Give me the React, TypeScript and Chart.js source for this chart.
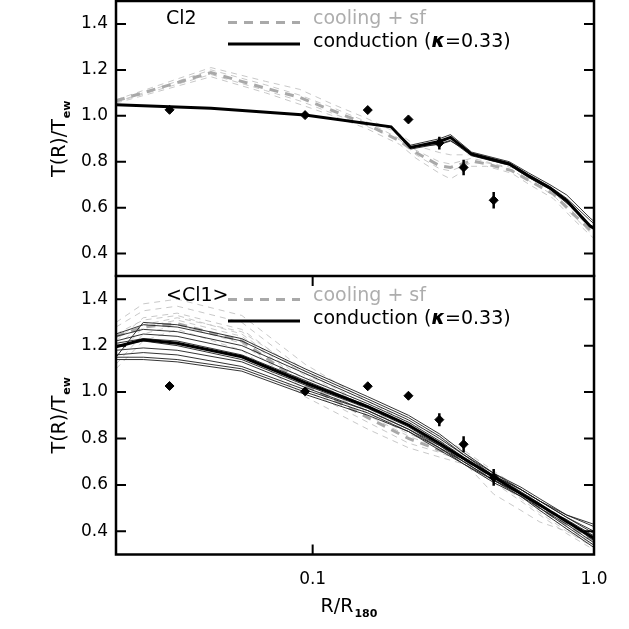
import { useEffect, useRef } from 'react';
import { Chart, registerables, type ChartConfiguration, type Plugin } from 'chart.js';

Chart.register(...registerables);

// ── Design tokens ──────────────────────────────────────────────────────────────

const FONT = '"DejaVu Sans", sans-serif';
const C = {
  black:     '#000000',
  thinBlack: '#1e1e1e',
  gray:      '#a9a9a9',
  grayThin:  '#c2c2c2',
  grayText:  '#adadad',
} as const;

// ── Observed profile (same in both panels) ─────────────────────────────────────

const OBS_R   = [0.031, 0.094, 0.157, 0.219, 0.282, 0.344, 0.44];
const OBS_T   = [1.026, 1.003, 1.025, 0.984, 0.881, 0.775, 0.632];
const OBS_ERR = [0.008, 0.008, 0.008, 0.008, 0.028, 0.034, 0.036];

// ── Top panel: Cl2 ─────────────────────────────────────────────────────────────

const TOP_COOL_R    = [0.02, 0.0435, 0.068, 0.09, 0.118, 0.155, 0.204, 0.233, 0.282, 0.309, 0.367, 0.415, 0.51, 0.59, 0.716, 0.843, 1.0];
const TOP_COOL_MEAN = [1.065, 1.188, 1.12, 1.08, 1.022, 0.964, 0.891, 0.84, 0.783, 0.775, 0.804, 0.79, 0.761, 0.717, 0.66, 0.573, 0.486];
const TOP_COOL_A    = [1.07, 1.21, 1.15, 1.115, 1.05, 0.99, 0.92, 0.87, 0.84, 0.83, 0.83, 0.81, 0.78, 0.73, 0.67, 0.58, 0.50];
const TOP_COOL_B    = [1.06, 1.20, 1.135, 1.09, 1.035, 0.975, 0.90, 0.85, 0.80, 0.79, 0.815, 0.80, 0.765, 0.715, 0.655, 0.565, 0.475];
const TOP_COOL_C    = [1.055, 1.17, 1.10, 1.05, 1.00, 0.945, 0.875, 0.815, 0.75, 0.725, 0.78, 0.78, 0.75, 0.70, 0.64, 0.55, 0.465];
const TOP_COOL_D    = [1.06, 1.18, 1.11, 1.065, 1.01, 0.955, 0.895, 0.83, 0.77, 0.76, 0.795, 0.795, 0.775, 0.73, 0.675, 0.59, 0.495];

const TOP_COND_R    = [0.02, 0.0435, 0.094, 0.19, 0.223, 0.282, 0.309, 0.367, 0.5, 0.584, 0.697, 0.80, 0.968, 1.0];
const TOP_COND_MEAN = [1.048, 1.033, 1.003, 0.952, 0.862, 0.888, 0.906, 0.833, 0.79, 0.739, 0.686, 0.63, 0.52, 0.51];
const TOP_COND_A    = [1.048, 1.033, 1.003, 0.950, 0.872, 0.90, 0.918, 0.842, 0.80, 0.752, 0.70, 0.655, 0.555, 0.54];
const TOP_COND_B    = [1.048, 1.033, 1.003, 0.951, 0.855, 0.878, 0.893, 0.826, 0.785, 0.732, 0.68, 0.62, 0.525, 0.515];
const TOP_COND_C    = [1.048, 1.033, 1.003, 0.952, 0.866, 0.875, 0.89, 0.838, 0.795, 0.745, 0.692, 0.64, 0.545, 0.53];

// ── Bottom panel: <Cl1> ────────────────────────────────────────────────────────

const BOT_R = [0.02, 0.025, 0.033, 0.056, 0.094, 0.157, 0.219, 0.282, 0.344, 0.44, 0.55, 0.642, 0.8, 1.0];

const BOT_COOL_MEAN = [1.24, 1.28, 1.295, 1.22, 1.03, 0.89, 0.80, 0.75, 0.71, 0.63, 0.56, 0.50, 0.43, 0.36];
const BOT_COOL_1 = [1.30, 1.38, 1.40, 1.33, 1.12, 0.96, 0.87, 0.81, 0.75, 0.66, 0.58, 0.52, 0.44, 0.37];
const BOT_COOL_2 = [1.28, 1.35, 1.37, 1.30, 1.09, 0.94, 0.85, 0.79, 0.74, 0.65, 0.57, 0.51, 0.43, 0.36];
const BOT_COOL_3 = [1.22, 1.32, 1.34, 1.27, 1.07, 0.92, 0.83, 0.77, 0.72, 0.63, 0.55, 0.49, 0.41, 0.34];
const BOT_COOL_4 = [1.15, 1.28, 1.31, 1.24, 1.04, 0.90, 0.81, 0.76, 0.71, 0.64, 0.56, 0.50, 0.42, 0.35];
const BOT_COOL_5 = [1.12, 1.25, 1.29, 1.21, 1.01, 0.87, 0.78, 0.74, 0.70, 0.62, 0.54, 0.48, 0.40, 0.33];
const BOT_COOL_6 = [1.10, 1.22, 1.27, 1.18, 0.98, 0.84, 0.76, 0.72, 0.69, 0.61, 0.53, 0.47, 0.39, 0.32];
const BOT_COOL_7 = [1.25, 1.31, 1.33, 1.25, 1.05, 0.91, 0.82, 0.77, 0.70, 0.56, 0.49, 0.44, 0.40, 0.34];
const BOT_COOL_8 = [1.20, 1.29, 1.32, 1.26, 1.08, 0.93, 0.84, 0.78, 0.73, 0.64, 0.57, 0.52, 0.45, 0.38];

const BOT_COND_MEAN = [1.195, 1.225, 1.21, 1.152, 1.04, 0.937, 0.858, 0.779, 0.714, 0.635, 0.562, 0.513, 0.442, 0.37];
const BOT_COND_1  = [1.15, 1.30, 1.29, 1.23, 1.10, 0.98, 0.90, 0.82, 0.74, 0.65, 0.58, 0.53, 0.46, 0.39];
const BOT_COND_2  = [1.25, 1.29, 1.28, 1.22, 1.09, 0.97, 0.89, 0.81, 0.73, 0.64, 0.57, 0.52, 0.44, 0.36];
const BOT_COND_3  = [1.24, 1.27, 1.26, 1.20, 1.08, 0.96, 0.88, 0.80, 0.73, 0.65, 0.59, 0.54, 0.47, 0.42];
const BOT_COND_4  = [1.22, 1.25, 1.24, 1.18, 1.06, 0.95, 0.87, 0.79, 0.72, 0.64, 0.58, 0.53, 0.46, 0.40];
const BOT_COND_5  = [1.21, 1.23, 1.22, 1.16, 1.05, 0.94, 0.86, 0.78, 0.71, 0.63, 0.56, 0.50, 0.42, 0.34];
const BOT_COND_6  = [1.20, 1.22, 1.20, 1.14, 1.03, 0.93, 0.85, 0.77, 0.71, 0.64, 0.58, 0.53, 0.47, 0.43];
const BOT_COND_7  = [1.18, 1.19, 1.18, 1.13, 1.02, 0.92, 0.84, 0.77, 0.70, 0.62, 0.55, 0.49, 0.41, 0.33];
const BOT_COND_8  = [1.16, 1.17, 1.16, 1.11, 1.01, 0.92, 0.84, 0.76, 0.70, 0.62, 0.56, 0.51, 0.44, 0.37];
const BOT_COND_9  = [1.15, 1.15, 1.14, 1.10, 1.00, 0.91, 0.83, 0.76, 0.69, 0.61, 0.55, 0.50, 0.43, 0.35];
const BOT_COND_10 = [1.14, 1.14, 1.13, 1.09, 0.99, 0.90, 0.83, 0.75, 0.69, 0.62, 0.56, 0.51, 0.45, 0.38];

// ── Helpers ────────────────────────────────────────────────────────────────────

const pts = (xs: number[], ys: number[]) => xs.map((x, i) => ({ x, y: ys[i] }));

function line(xs: number[], ys: number[], color: string, width: number, dash: number[] = []) {
  return {
    data: pts(xs, ys),
    showLine: true,
    borderColor: color,
    borderWidth: width,
    borderDash: dash,
    pointRadius: 0,
    tension: 0,
    fill: false,
  };
}

const isDecade = (v: number) => Math.abs(Math.log10(v) - Math.round(Math.log10(v))) < 1e-6;
const isMajorY = (v: number) => Math.round(v * 100) % 20 === 0;

function subText(
  ctx: CanvasRenderingContext2D, main: string, sub: string,
  cx: number, y: number, mainFont: string, subFont: string, drop: number,
) {
  ctx.font = mainFont;
  const w1 = ctx.measureText(main).width;
  ctx.font = subFont;
  const w2 = ctx.measureText(sub).width;
  const x0 = cx - (w1 + w2 + 1) / 2;
  ctx.font = mainFont;
  ctx.fillText(main, x0, y);
  ctx.font = subFont;
  ctx.fillText(sub, x0 + w1 + 1, y + drop);
}

// ── Panel ──────────────────────────────────────────────────────────────────────

interface PanelProps {
  name:       string;
  top:        number;
  height:     number;
  padTop:     number;
  padBottom:  number;
  xAxisH:     number;
  xLabels:    boolean;
  legendDy:   number;
  coolR:      number[];
  coolMean:   number[];
  coolRuns:   number[][];
  condR:      number[];
  condMean:   number[];
  condRuns:   number[][];
}

function Panel(p: PanelProps) {
  const canvasRef = useRef<HTMLCanvasElement>(null);

  useEffect(() => {
    const canvas = canvasRef.current;
    if (!canvas) return;

    const errData = OBS_R.flatMap((x, i) => [
      { x, y: OBS_T[i] - OBS_ERR[i] },
      { x, y: OBS_T[i] + OBS_ERR[i] },
      { x, y: null as unknown as number },
    ]);

    // first dataset is drawn on top
    const datasets: any[] = [
      {
        data: pts(OBS_R, OBS_T),
        showLine: false,
        pointStyle: 'rectRot',
        pointRadius: 4.5,
        pointBackgroundColor: C.black,
        pointBorderColor: C.black,
        pointBorderWidth: 1,
      },
      { ...line([], [], C.black, 2.5), data: errData, spanGaps: false },
      line(p.condR, p.condMean, C.black, 3),
      ...p.condRuns.map((r) => line(p.condR, r, C.thinBlack, 0.9)),
      line(p.coolR, p.coolMean, C.gray, 3, [9, 7]),
      ...p.coolRuns.map((r) => line(p.coolR, r, C.grayThin, 0.9, [6, 5])),
    ];

    const frame: Plugin<'scatter'> = {
      id: 'frame',
      afterDatasetsDraw(chart) {
        const { ctx, chartArea: a, scales } = chart;
        const xs = scales.x;
        const ys = scales.y;
        ctx.save();
        ctx.strokeStyle = C.black;
        ctx.lineWidth = 2;
        ctx.beginPath();
        xs.ticks.forEach((t) => {
          const px = xs.getPixelForValue(t.value);
          const len = isDecade(t.value) ? 10 : 5;
          ctx.moveTo(px, a.bottom); ctx.lineTo(px, a.bottom - len);
          ctx.moveTo(px, a.top);    ctx.lineTo(px, a.top + len);
        });
        ys.ticks.forEach((t) => {
          const py = ys.getPixelForValue(t.value);
          const len = isMajorY(t.value) ? 10 : 6;
          ctx.moveTo(a.left, py);  ctx.lineTo(a.left + len, py);
          ctx.moveTo(a.right, py); ctx.lineTo(a.right - len, py);
        });
        ctx.stroke();
        ctx.lineWidth = 2.5;
        ctx.strokeRect(a.left, a.top, a.right - a.left, a.bottom - a.top);
        ctx.restore();
      },
    };

    const notes: Plugin<'scatter'> = {
      id: 'notes',
      afterDraw(chart) {
        const { ctx, chartArea: a } = chart;
        const y0 = a.top + p.legendDy;
        ctx.save();
        ctx.textAlign = 'left';
        ctx.textBaseline = 'alphabetic';

        // panel name
        ctx.fillStyle = C.black;
        ctx.font = `19px ${FONT}`;
        ctx.fillText(p.name, 166, y0 + 24);

        // legend samples
        ctx.lineWidth = 3;
        ctx.strokeStyle = C.gray;
        ctx.setLineDash([9, 7]);
        ctx.beginPath(); ctx.moveTo(228, y0 + 22.5); ctx.lineTo(300, y0 + 22.5); ctx.stroke();
        ctx.setLineDash([]);
        ctx.strokeStyle = C.black;
        ctx.beginPath(); ctx.moveTo(228, y0 + 44); ctx.lineTo(300, y0 + 44); ctx.stroke();

        ctx.fillStyle = C.grayText;
        ctx.fillText('cooling + sf', 313, y0 + 24);

        ctx.fillStyle = C.black;
        let x = 313;
        ctx.font = `19px ${FONT}`;
        ctx.fillText('conduction (', x, y0 + 47);
        x += ctx.measureText('conduction (').width;
        ctx.font = `italic bold 19px ${FONT}`;
        ctx.fillText('κ', x, y0 + 47);
        x += ctx.measureText('κ').width;
        ctx.font = `19px ${FONT}`;
        ctx.fillText('=0.33)', x, y0 + 47);

        // y title
        ctx.save();
        ctx.translate(65, (a.top + a.bottom) / 2);
        ctx.rotate(-Math.PI / 2);
        subText(ctx, 'T(R)/T', 'ew', 0, 0, `19px ${FONT}`, `bold 11px ${FONT}`, 5);
        ctx.restore();

        // x title
        if (p.xLabels) {
          subText(ctx, 'R/R', '180', 349, a.bottom + 57, `19px ${FONT}`, `bold 11px ${FONT}`, 5.5);
        }
        ctx.restore();
      },
    };

    const config: ChartConfiguration<'scatter'> = {
      type: 'scatter',
      data: { datasets },
      options: {
        responsive: false,
        animation:  false,
        layout: {
          autoPadding: false,
          padding: { left: 0, right: 35, top: p.padTop, bottom: p.padBottom },
        },
        plugins: { legend: { display: false }, tooltip: { enabled: false } },
        scales: {
          x: {
            type: 'logarithmic',
            min:  0.02,
            max:  1.0,
            grid:   { display: false, drawTicks: false },
            border: { display: false },
            ticks: {
              autoSkip:    false,
              maxRotation: 0,
              padding:     15,
              color:       C.black,
              font:        { family: FONT, size: 17 },
              callback:    (v) => {
                if (!p.xLabels) return null;
                const n = Number(v);
                if (Math.abs(n - 0.1) < 1e-9) return '0.1';
                if (Math.abs(n - 1) < 1e-9) return '1.0';
                return null;
              },
            },
            afterFit: (s) => {
              s.height = p.xAxisH;
              s.paddingLeft = 0;
              s.paddingRight = 0;
            },
          },
          y: {
            min: 0.3,
            max: 1.5,
            grid:   { display: false, drawTicks: false },
            border: { display: false },
            ticks: {
              stepSize:      0.05,
              maxTicksLimit: 100,
              autoSkip:      false,
              padding:       8,
              color:         C.black,
              font:          { family: FONT, size: 17 },
              callback:      (v) => (isMajorY(Number(v)) ? Number(v).toFixed(1) : null),
            },
            afterFit: (s) => {
              s.width = 116;
              s.paddingTop = 0;
              s.paddingBottom = 0;
            },
          },
        },
      },
      plugins: [frame, notes],
    };

    const chart = new Chart(canvas, config);
    return () => { chart.destroy(); };
  }, []);

  return (
    <canvas
      ref={canvasRef}
      width={629}
      height={p.height}
      style={{ position: 'absolute', left: 0, top: p.top, width: 629, height: p.height }}
    />
  );
}

// ── Main Component ─────────────────────────────────────────────────────────────

export default function App() {
  return (
    <div style={{ position: 'absolute', left: 0, top: 0, width: 629, height: 629, background: '#fff', overflow: 'hidden' }}>
      <Panel
        name="Cl2"
        top={0}
        height={277}
        padTop={1}
        padBottom={0.5}
        xAxisH={0}
        xLabels={false}
        legendDy={-1}
        coolR={TOP_COOL_R}
        coolMean={TOP_COOL_MEAN}
        coolRuns={[TOP_COOL_A, TOP_COOL_B, TOP_COOL_C, TOP_COOL_D]}
        condR={TOP_COND_R}
        condMean={TOP_COND_MEAN}
        condRuns={[TOP_COND_A, TOP_COND_B, TOP_COND_C]}
      />
      <Panel
        name="<Cl1>"
        top={272}
        height={357}
        padTop={4}
        padBottom={0}
        xAxisH={74.5}
        xLabels={true}
        legendDy={1}
        coolR={BOT_R}
        coolMean={BOT_COOL_MEAN}
        coolRuns={[BOT_COOL_1, BOT_COOL_2, BOT_COOL_3, BOT_COOL_4, BOT_COOL_5, BOT_COOL_6, BOT_COOL_7, BOT_COOL_8]}
        condR={BOT_R}
        condMean={BOT_COND_MEAN}
        condRuns={[BOT_COND_1, BOT_COND_2, BOT_COND_3, BOT_COND_4, BOT_COND_5, BOT_COND_6, BOT_COND_7, BOT_COND_8, BOT_COND_9, BOT_COND_10]}
      />
    </div>
  );
}
